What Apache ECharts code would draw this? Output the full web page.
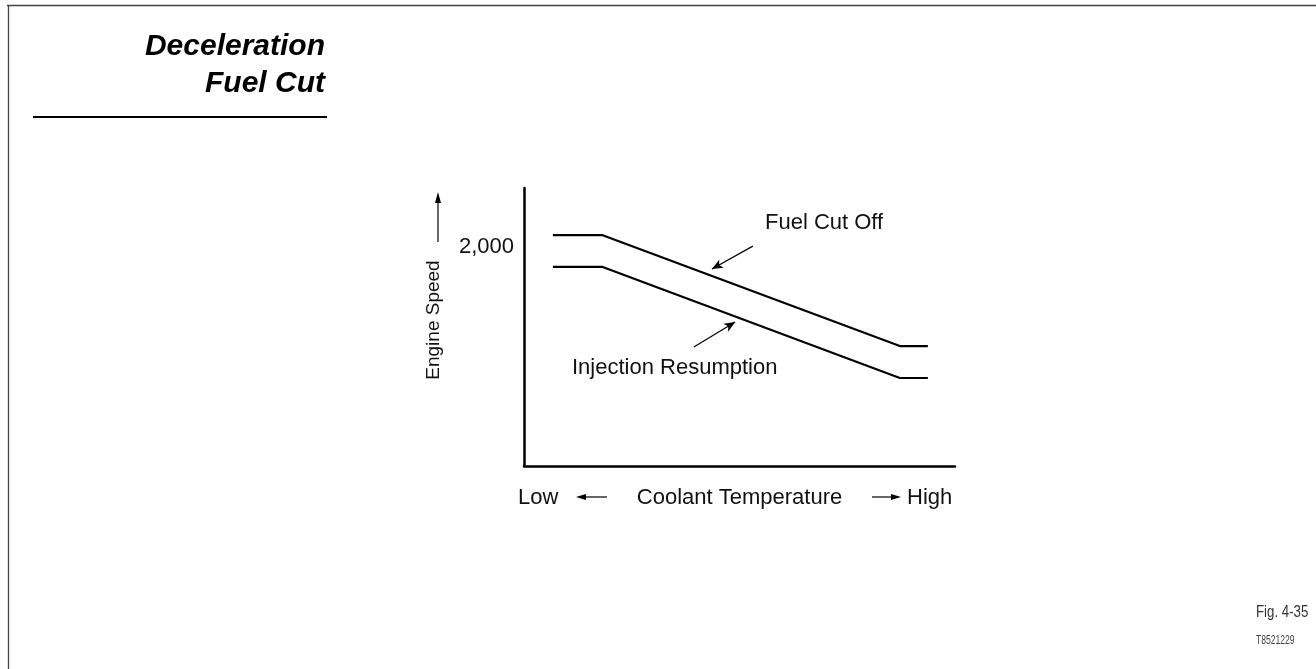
<!DOCTYPE html>
<html>
<head>
<meta charset="utf-8">
<title>Deceleration Fuel Cut</title>
<script src="https://cdn.jsdelivr.net/npm/echarts@6/dist/echarts.min.js"></script>
<style>
  html, body { margin: 0; padding: 0; background: #fff; }
  #chart { width: 1316px; height: 669px; }
</style>
</head>
<body>
<div id="chart"></div>
<script>
// coolant temperature, arbitrary scale 0 (low) .. 100 (high)
var temp = [6.7, 18.1, 87.2, 93.7];
// engine speed (rpm)
var fuelCutOff = [2110, 2110, 1096, 1096];
var injectionResumption = [1820, 1820, 804, 804];
var yTickLabels = { 2000: '2,000' };

// annotation arrows [from, to] in data units
var fuelArrow = [[53.1, 2009], [43.6, 1799]];
var injArrow = [[39.4, 1087], [49.0, 1315]];

var FONT = '"Liberation Sans", Arial, Helvetica, sans-serif';

function pairs(xs, ys) {
  return xs.map(function (x, i) { return [x, ys[i]]; });
}

function arrowLine(pts) {
  return {
    silent: true,
    symbol: ['none', 'arrow'],
    symbolSize: [7, 11],
    lineStyle: { color: '#000', width: 1.2, type: 'solid' },
    label: { show: false },
    data: [[{ coord: pts[0] }, { coord: pts[1] }]]
  };
}

var myChart = echarts.init(document.getElementById('chart'));

var option = {
  backgroundColor: '#fff',
  animation: false,
  grid: { left: 524, right: 361, top: 188, bottom: 203, containLabel: false },
  xAxis: {
    type: 'value',
    min: 0,
    max: 100,
    name: 'Coolant Temperature',
    nameLocation: 'middle',
    nameGap: 21,
    nameTextStyle: { fontFamily: FONT, fontSize: 22, color: '#111' },
    axisLine: { show: true, lineStyle: { color: '#000', width: 2.5 } },
    axisTick: { show: false },
    axisLabel: { show: false },
    splitLine: { show: false }
  },
  yAxis: {
    type: 'value',
    min: 0,
    max: 2540,
    interval: 1000,
    axisLine: { show: true, lineStyle: { color: '#000', width: 2.5 } },
    axisTick: { show: false },
    axisLabel: {
      margin: 10,
      fontFamily: FONT,
      fontSize: 22,
      color: '#111',
      showMaxLabel: false,
      formatter: function (v) { return yTickLabels[v] || ''; }
    },
    splitLine: { show: false }
  },
  series: [
    {
      name: 'Fuel Cut Off',
      type: 'line',
      symbol: 'none',
      lineStyle: { color: '#000', width: 2.2 },
      data: pairs(temp, fuelCutOff),
      markLine: arrowLine(fuelArrow)
    },
    {
      name: 'Injection Resumption',
      type: 'line',
      symbol: 'none',
      lineStyle: { color: '#000', width: 2.2 },
      data: pairs(temp, injectionResumption),
      markLine: arrowLine(injArrow)
    }
  ],
  graphic: [
    // page frame
    { type: 'line', silent: true, shape: { x1: 7, y1: 5.5, x2: 1316, y2: 5.5 }, style: { stroke: '#444', lineWidth: 1.3 } },
    { type: 'line', silent: true, shape: { x1: 8.5, y1: 5, x2: 8.5, y2: 669 }, style: { stroke: '#444', lineWidth: 1.3 } },
    // header
    {
      type: 'text', silent: true,
      x: 325, y: 28,
      style: {
        text: 'Deceleration\nFuel Cut',
        align: 'right',
        verticalAlign: 'top',
        font: 'italic bold 30px ' + FONT,
        lineHeight: 37,
        fill: '#000'
      }
    },
    { type: 'line', silent: true, shape: { x1: 33, y1: 117, x2: 327, y2: 117 }, style: { stroke: '#000', lineWidth: 2 } },
    // y axis title (rotated)
    {
      type: 'text', silent: true, x: 434, y: 320, rotation: Math.PI / 2,
      style: { text: 'Engine Speed', align: 'center', verticalAlign: 'middle', font: '19px ' + FONT, fill: '#111' }
    },
    // curve labels
    {
      type: 'text', silent: true, x: 765, y: 223,
      style: { text: 'Fuel Cut Off', verticalAlign: 'middle', font: '22px ' + FONT, fill: '#111' }
    },
    {
      type: 'text', silent: true, x: 572, y: 368,
      style: { text: 'Injection Resumption', verticalAlign: 'middle', font: '22px ' + FONT, fill: '#111' }
    },
    // x axis end labels and arrows
    {
      type: 'text', silent: true, x: 518, y: 498,
      style: { text: 'Low', verticalAlign: 'middle', font: '22px ' + FONT, fill: '#111' }
    },
    {
      type: 'text', silent: true, x: 907, y: 498,
      style: { text: 'High', verticalAlign: 'middle', font: '22px ' + FONT, fill: '#111' }
    },
    { type: 'line', silent: true, shape: { x1: 584, y1: 497, x2: 607, y2: 497 }, style: { stroke: '#000', lineWidth: 1.2 } },
    { type: 'polygon', silent: true, shape: { points: [[576, 497], [586, 494], [586, 500]] }, style: { fill: '#000' } },
    { type: 'line', silent: true, shape: { x1: 872, y1: 497, x2: 894, y2: 497 }, style: { stroke: '#000', lineWidth: 1.2 } },
    { type: 'polygon', silent: true, shape: { points: [[901, 497], [891, 494], [891, 500]] }, style: { fill: '#000' } },
    // y axis arrow
    { type: 'line', silent: true, shape: { x1: 438, y1: 242, x2: 438, y2: 200 }, style: { stroke: '#000', lineWidth: 1.2 } },
    { type: 'polygon', silent: true, shape: { points: [[438, 192], [435, 203], [441, 203]] }, style: { fill: '#000' } },
    // figure reference
    {
      type: 'text', silent: true, x: 1256, y: 612, scaleX: 0.78,
      style: { text: 'Fig. 4-35', verticalAlign: 'middle', font: '17px ' + FONT, fill: '#333' }
    },
    {
      type: 'text', silent: true, x: 1256, y: 640, scaleX: 0.66,
      style: { text: 'T8521229', verticalAlign: 'middle', font: '13px ' + FONT, fill: '#444' }
    }
  ]
};

myChart.setOption(option);
</script>
</body>
</html>
